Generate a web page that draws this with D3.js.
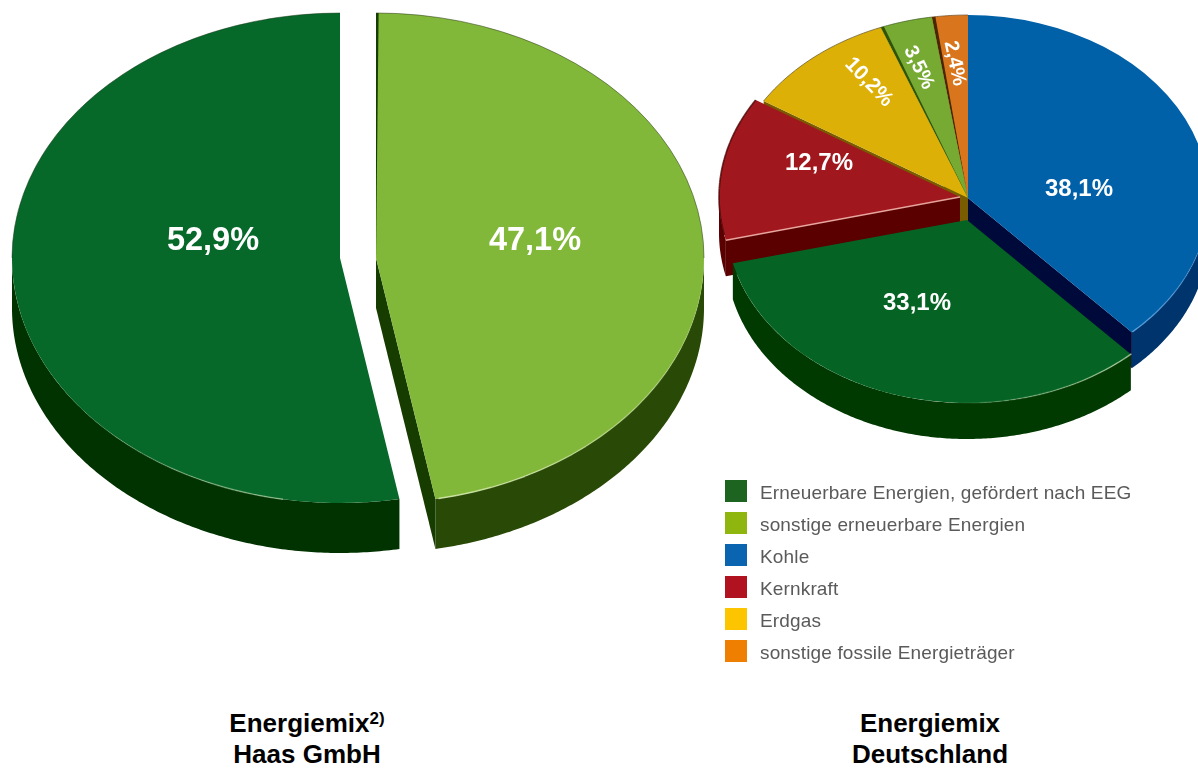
<!DOCTYPE html>
<html>
<head>
<meta charset="utf-8">
<script src="https://cdn.jsdelivr.net/npm/d3@7"></script>
<style>
  html, body { margin: 0; padding: 0; background: #fff; overflow: hidden; }
  svg { display: block; font-family: "Liberation Sans", Arial, sans-serif; }
  .pct { fill: #fff; font-weight: bold; text-anchor: middle; dominant-baseline: central; }
  .title { font-size: 26px; font-weight: bold; text-anchor: middle; fill: #000; }
  .legend text { font-size: 19px; fill: #5a5a5a; letter-spacing: 0.15px; }
</style>
</head>
<body>
<svg id="chart" width="1198" height="769"></svg>
<script>
// values, clockwise from 12 o'clock
var haasNames = ["sonstige erneuerbare Energien", "Erneuerbare Energien, gefördert nach EEG"]
var haasValues = [47.1, 52.9]
var haasLabels = ["47,1%", "52,9%"]

var deNames = ["Kohle", "Erneuerbare Energien, gefördert nach EEG", "Kernkraft", "Erdgas", "sonstige erneuerbare Energien", "sonstige fossile Energieträger"]
var deValues = [38.1, 33.1, 12.7, 10.2, 3.5, 2.4]
var deLabels = ["38,1%", "33,1%", "12,7%", "10,2%", "3,5%", "2,4%"]

var legendNames = ["Erneuerbare Energien, gefördert nach EEG", "sonstige erneuerbare Energien", "Kohle", "Kernkraft", "Erdgas", "sonstige fossile Energieträger"]
var legendColors = ["#1d6420", "#8fb60f", "#0a64b0", "#b01220", "#fdc400", "#ee7f00"]

var deg = Math.PI / 180
var svg = d3.select("#chart")

// a point on the rim of the tilted disc
function rimPoint(p, a, dy) {
  return [p.cx + p.rx * Math.sin(a), p.cy - p.ry * Math.cos(a) + (dy || 0)]
}

function drawPie(p) {
  var slices = d3.pie().sort(null).value(function(d) { return d })(p.values)
  var arc = d3.arc().innerRadius(0).outerRadius(p.rx)
  var line = d3.line()
  var root = svg.append("g").style("filter", "blur(0.5px)")

  p.order.forEach(function(i) {
    var s = slices[i]
    var q = { cx: p.centers[i][0], cy: p.centers[i][1], rx: p.rx, ry: p.ry }
    var g = root.append("g").attr("class", "slice").attr("data-name", p.names[i])

    // outer side, only the part that faces the viewer
    var from = Math.max(s.startAngle, Math.PI / 2)
    var to = Math.min(s.endAngle, Math.PI * 1.5)
    if (to > from) {
      var angles = d3.range(from, to, 0.01).concat([to])
      var top = angles.map(function(a) { return rimPoint(q, a, 0) })
      var bottom = angles.slice().reverse().map(function(a) { return rimPoint(q, a, p.depth) })
      g.append("path").attr("d", line(top.concat(bottom)) + "Z").attr("fill", p.sides[i])
    }

    // cut face
    var wallAngle = s.startAngle > Math.PI && s.startAngle < 2 * Math.PI ? s.startAngle
      : (s.endAngle > 0 && s.endAngle < Math.PI ? s.endAngle : null)
    if (wallAngle !== null) {
      var c = rimPoint(q, wallAngle, 0)
      var wall = [[q.cx, q.cy], c, [c[0], c[1] + p.depth], [q.cx, q.cy + p.depth]]
      g.append("path").attr("d", line(wall) + "Z").attr("fill", p.walls[i])
    }

    // top surface
    var disc = g.append("g").attr("transform", "translate(" + q.cx + "," + q.cy + ") scale(1," + (q.ry / q.rx) + ")")
    disc.append("path").attr("d", arc(s)).attr("fill", p.colors[i])

    // dark sliver of the neighbouring cut, seen along the start edge
    if (p.slivers[i] > 0) {
      disc.append("path")
        .attr("d", arc({ startAngle: s.startAngle, endAngle: s.startAngle + p.slivers[i] }))
        .attr("fill", p.walls[i])
    }
  })

  // thin light and dark edges of the top surface
  p.rims.forEach(function(r) {
    var q = { cx: p.centers[r.slice][0], cy: p.centers[r.slice][1], rx: p.rx, ry: p.ry }
    var steps = d3.range(24).map(function(k) { return r.from + (r.to - r.from) * k / 24 })
    steps.forEach(function(a, k) {
      root.append("path")
        .attr("d", line([rimPoint(q, a * deg), rimPoint(q, (a + (r.to - r.from) / 24) * deg)]))
        .attr("fill", "none").attr("stroke", r.color).attr("stroke-width", r.width || 1.4)
        .attr("stroke-opacity", r.opacity * (r.fade ? 1 - k / 24 : 1))
    })
  })
  p.edges.forEach(function(e) {
    var q = { cx: p.centers[e.slice][0], cy: p.centers[e.slice][1], rx: p.rx, ry: p.ry }
    root.append("path")
      .attr("d", line([[q.cx, q.cy], rimPoint(q, slices[e.slice].startAngle)]))
      .attr("fill", "none").attr("stroke", e.color).attr("stroke-width", 1.6).attr("stroke-opacity", e.opacity)
  })

  p.labels.forEach(function(t, i) {
    var l = p.labelPos[i]
    svg.append("text").attr("class", "pct")
      .attr("transform", "translate(" + l[0] + "," + l[1] + ") rotate(" + l[3] + ")")
      .style("font-size", l[2] + "px")
      .text(t)
  })
}

drawPie({
  names: haasNames, values: haasValues, labels: haasLabels,
  rx: 328, ry: 245, depth: 50, order: [0, 1],
  centers: [[376, 258], [340, 258]],
  colors: ["#82b83a", "#066829"],
  sides: ["#284a06", "#013300"],
  walls: ["#173c00", "#013300"],
  slivers: [0.008, 0],
  labelPos: [[535, 239, 32.5, 0], [213, 239, 32.5, 0]],
  rims: [
    { slice: 0, from: 169, to: 92, color: "#d8eab0", opacity: 0.85, fade: true },
    { slice: 1, from: 190, to: 232, color: "#a8d0a0", opacity: 0.7, fade: true },
    { slice: 0, from: 0, to: 90, color: "#33421c", opacity: 0.55, width: 1 },
    { slice: 1, from: 270, to: 360, color: "#1c3a1c", opacity: 0.5, width: 1 }
  ],
  edges: []
})

drawPie({
  names: deNames, values: deValues, labels: deLabels,
  rx: 241, ry: 183, depth: 36, order: [5, 4, 3, 2, 0, 1],
  centers: [[968, 198], [967, 220], [960, 197], [968, 198], [968, 198], [968, 198]],
  colors: ["#0060a8", "#056423", "#a0171e", "#dcb006", "#76aa33", "#d9751d"],
  sides: ["#00346c", "#003a00", "#5a0000", "#6b5200", "#3c5c10", "#5c3000"],
  walls: ["#000a3a", "#003a00", "#5a0000", "#7a5c00", "#2f5408", "#4a2600"],
  slivers: [0, 0, 0, 0, 0.014, 0.015],
  labelPos: [
    [1079, 187, 24, 0], [917, 301, 24, 0], [819, 161, 24, 0],
    [870, 81, 21, 46], [920, 67, 20, 64], [956, 63, 20, 78]
  ],
  rims: [
    { slice: 0, from: 137, to: 100, color: "#5ea6e6", opacity: 0.85, fade: true },
    { slice: 1, from: 137, to: 185, color: "#c6e0b8", opacity: 0.75, fade: true },
    { slice: 2, from: 258, to: 302, color: "#4a0000", opacity: 0.8, width: 1.6 },
    { slice: 3, from: 302, to: 339, color: "#5c4a10", opacity: 0.7, width: 1 },
    { slice: 4, from: 339, to: 351, color: "#3a5a20", opacity: 0.7, width: 1 },
    { slice: 5, from: 351, to: 360, color: "#6a4a20", opacity: 0.7, width: 1 }
  ],
  edges: [{ slice: 2, color: "#f0b0a8", opacity: 0.9 }]
})

// legend
var legendY = d3.scalePoint().domain(legendNames).range([491, 651])
var legend = svg.append("g").attr("class", "legend").style("filter", "blur(0.6px)")
var rows = legend.selectAll("g").data(legendNames).enter().append("g")
  .attr("transform", function(d) { return "translate(725," + legendY(d) + ")" })
rows.append("rect").attr("y", -11).attr("width", 22).attr("height", 22)
  .attr("fill", function(d, i) { return legendColors[i] })
rows.append("text").attr("x", 35).attr("y", 1).attr("dominant-baseline", "central").text(function(d) { return d })

// titles under the pies
var t1 = svg.append("text").attr("class", "title").attr("x", 307).attr("y", 732)
t1.append("tspan").text("Energiemix")
t1.append("tspan").attr("dy", -8).style("font-size", "17px").text("2)")
svg.append("text").attr("class", "title").attr("x", 307).attr("y", 763).text("Haas GmbH")
svg.append("text").attr("class", "title").attr("x", 930).attr("y", 732).text("Energiemix")
svg.append("text").attr("class", "title").attr("x", 930).attr("y", 763).text("Deutschland")
</script>
</body>
</html>
